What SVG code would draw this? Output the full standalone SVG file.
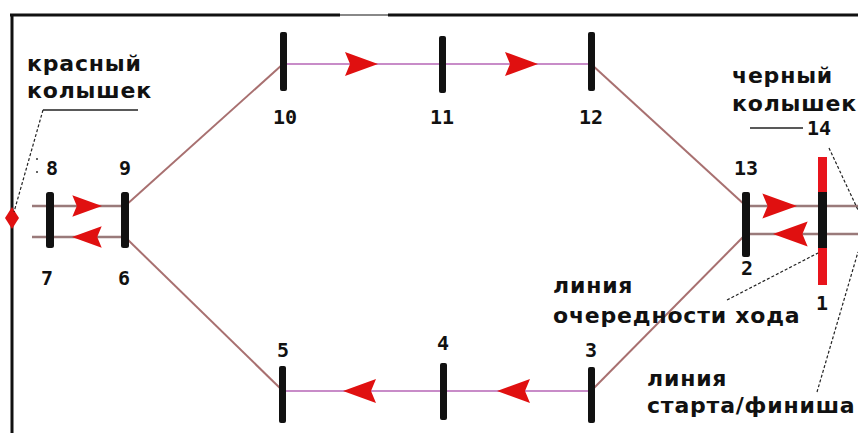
<svg xmlns="http://www.w3.org/2000/svg" width="858" height="433" viewBox="0 0 858 433">
<defs>
<style>
.post{fill:#111}
.redpost{fill:#e8141c}
.num{font-family:"DejaVu Sans Mono","Liberation Mono",monospace;font-weight:bold;font-size:20px;fill:#111;text-anchor:middle}
.lbl{font-family:"DejaVu Sans","Verdana",sans-serif;font-weight:bold;font-size:22px;letter-spacing:0.8px;fill:#111}
.diag{stroke:#a87070;stroke-width:2;fill:none}
.track{stroke:#c88cc8;stroke-width:2;fill:none}
.pair{stroke:#9a7a7a;stroke-width:2.5;fill:none}
.lead{stroke:#222;stroke-width:1.2;fill:none;stroke-dasharray:3 2}
.leadsolid{stroke:#222;stroke-width:1.3;fill:none}
.arr{fill:#e01010}
</style>
<path id="arrR" d="M0,0 L-33,-12 L-28,0 L-33,12 Z"/>
<path id="arrL" d="M0,0 L33,-12 L28,0 L33,12 Z"/>
</defs>
<rect width="858" height="433" fill="#fff"/>
<g id="frame" stroke="#111" stroke-width="3" fill="none">
<line x1="10" y1="15" x2="340" y2="15"/>
<line x1="340" y1="15" x2="388" y2="15" stroke="#888" stroke-width="2"/>
<line x1="388" y1="15" x2="858" y2="15"/>
<line x1="12" y1="14" x2="12" y2="433"/>
</g>
<g id="connectors">
<line class="diag" x1="125" y1="206" x2="283" y2="64"/>
<line class="diag" x1="125" y1="237" x2="283" y2="391"/>
<line class="diag" x1="591" y1="64" x2="746" y2="206"/>
<line class="diag" x1="591" y1="391" x2="746" y2="234"/>
<line class="track" x1="283" y1="64" x2="591" y2="64"/>
<line class="track" x1="282" y1="391" x2="591" y2="391"/>
<line class="pair" x1="32" y1="206" x2="125" y2="206"/>
<line class="pair" x1="32" y1="237" x2="125" y2="237"/>
<line class="pair" x1="746" y1="206" x2="858" y2="206"/>
<line class="pair" x1="746" y1="234" x2="858" y2="234"/>
<use href="#arrR" class="arr" transform="translate(378,64)"/>
<use href="#arrR" class="arr" transform="translate(538,64)"/>
<use href="#arrL" class="arr" transform="translate(343,391)"/>
<use href="#arrL" class="arr" transform="translate(497,391)"/>
<use href="#arrR" class="arr" transform="translate(102,206) scale(0.9)"/>
<use href="#arrL" class="arr" transform="translate(72,237) scale(0.9)"/>
<use href="#arrR" class="arr" transform="translate(797,206) scale(1.05)"/>
<use href="#arrL" class="arr" transform="translate(773,234) scale(1.05)"/>
</g>
<g id="post-10"><rect class="post" x="280" y="32" width="7" height="59" rx="2"/><text class="num" x="285" y="124">10</text></g>
<g id="post-11"><rect class="post" x="439" y="36" width="7" height="57" rx="2"/><text class="num" x="442" y="124">11</text></g>
<g id="post-12"><rect class="post" x="588" y="32" width="7" height="59" rx="2"/><text class="num" x="591" y="124">12</text></g>
<g id="post-5"><rect class="post" x="279" y="366" width="7" height="57" rx="2"/><text class="num" x="283" y="357">5</text></g>
<g id="post-4"><rect class="post" x="440" y="363" width="7" height="57" rx="2"/><text class="num" x="443" y="350">4</text></g>
<g id="post-3"><rect class="post" x="588" y="367" width="7" height="56" rx="2"/><text class="num" x="591" y="357">3</text></g>
<g id="post-8-7"><rect class="post" x="46" y="192" width="8" height="56" rx="2.5"/><text class="num" x="52" y="175">8</text><text class="num" x="47" y="285">7</text><circle cx="37" cy="159" r="1" fill="#333"/><circle cx="37" cy="172" r="1" fill="#333"/></g>
<g id="post-9-6"><rect class="post" x="121" y="192" width="8" height="56" rx="2.5"/><text class="num" x="125" y="175">9</text><text class="num" x="124" y="285">6</text></g>
<g id="post-13-2"><rect class="post" x="742" y="192" width="8" height="65" rx="2"/><text class="num" x="746" y="175">13</text><text class="num" x="747" y="275">2</text></g>
<g id="post-14-1"><rect class="redpost" x="818" y="157" width="9" height="128"/><rect class="post" x="818" y="192" width="9" height="56"/><text class="num" x="819" y="135">14</text><text class="num" x="822" y="310">1</text></g>
<g id="red-peg"><path d="M12,207 L19,218 L12,229 L5,218 Z" fill="#e01010"/></g>
<g id="label-red">
<text class="lbl" x="27" y="71">красный</text>
<text class="lbl" x="27" y="98">колышек</text>
<line class="leadsolid" x1="43" y1="110" x2="138" y2="110"/>
<line class="lead" x1="43" y1="110" x2="14" y2="212"/>
</g>
<g id="label-black">
<text class="lbl" x="732" y="83">черный</text>
<text class="lbl" x="732" y="111">колышек</text>
<line class="leadsolid" x1="750" y1="128" x2="803" y2="128"/>
<line class="lead" x1="829" y1="148" x2="858" y2="210"/>
</g>
<g id="label-turn">
<text class="lbl" x="553" y="293">линия</text>
<text class="lbl" x="553" y="323">очередности хода</text>
<line class="lead" x1="727" y1="300" x2="818" y2="253"/>
</g>
<g id="label-start">
<text class="lbl" x="647" y="386">линия</text>
<text class="lbl" x="647" y="413">старта/финиша</text>
<line class="lead" x1="817" y1="392" x2="858" y2="252"/>
</g>
</svg>
